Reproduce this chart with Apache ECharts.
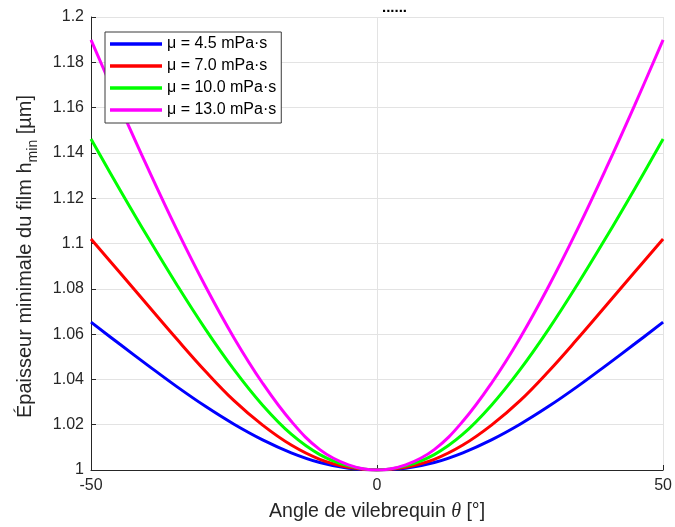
<!DOCTYPE html>
<html>
<head>
<meta charset="utf-8">
<script src="https://cdn.jsdelivr.net/npm/echarts@6/dist/echarts.min.js"></script>
<style>html,body{margin:0;padding:0;background:#fff}#c{width:675px;height:527px}</style>
</head>
<body>
<div id="c"></div>
<script>
// Crank angle (deg)
const angles = [-50,-45,-40,-35,-30,-25,-20,-15,-10,-5,0,5,10,15,20,25,30,35,40,45,50];
const seriesNames = ['μ = 4.5 mPa·s','μ = 7.0 mPa·s','μ = 10.0 mPa·s','μ = 13.0 mPa·s'];
// Minimum film thickness (µm)
const hMu45  = [1.0653,1.0556,1.0461,1.0368,1.0281,1.0202,1.0133,1.0076,1.0033,1.0008,1.0000,1.0008,1.0033,1.0076,1.0133,1.0202,1.0281,1.0368,1.0461,1.0556,1.0653];
const hMu70  = [1.1020,1.0873,1.0725,1.0578,1.0436,1.0306,1.0198,1.0110,1.0047,1.0012,1.0000,1.0012,1.0047,1.0110,1.0198,1.0306,1.0436,1.0578,1.0725,1.0873,1.1020];
const hMu100 = [1.1461,1.1240,1.1025,1.0818,1.0622,1.0443,1.0286,1.0158,1.0068,1.0018,1.0000,1.0018,1.0068,1.0158,1.0286,1.0443,1.0622,1.0818,1.1025,1.1240,1.1461];
const hMu130 = [1.1899,1.1609,1.1329,1.1061,1.0811,1.0583,1.0383,1.0215,1.0090,1.0023,1.0000,1.0023,1.0090,1.0215,1.0383,1.0583,1.0811,1.1061,1.1329,1.1609,1.1899];
const xTicks = [-50, 0, 50];
const yTickMin = 1, yTickMax = 1.2, yTickStep = 0.02;

const colors = ['#0000ff','#ff0000','#00ff00','#ff00ff'];
const allVals = [hMu45, hMu70, hMu100, hMu130];
const axisColor = '#262626';
const gridColor = '#e3e3e3';
const font = 'Liberation Sans, Arial, Helvetica, sans-serif';

const chart = echarts.init(document.getElementById('c'), null, {renderer:'canvas'});
chart.setOption({
  animation: false,
  backgroundColor: '#fff',
  textStyle: {fontFamily: font},
  grid: {left: 91, right: 10, top: 17, bottom: 56, containLabel: false},
  graphic: [{
    type: 'text', left: 382, top: 0,
    style: {text: '......', fontSize: 15, fontWeight: 'bold', fill: '#000', fontFamily: font}
  }],
  legend: {
    orient: 'vertical', left: 105, top: 32,
    padding: [4, 5, 5, 5], itemGap: 6,
    itemWidth: 52, itemHeight: 3.5, icon: 'rect',
    backgroundColor: '#fff', borderColor: '#3a3a3a', borderWidth: 1,
    textStyle: {fontSize: 16, color: '#000', lineHeight: 16, fontFamily: font},
    data: seriesNames
  },
  xAxis: {
    type: 'value', min: xTicks[0], max: xTicks[xTicks.length-1], interval: xTicks[1]-xTicks[0],
    name: '{a|Angle de vilebrequin }{i|θ}{a| [°]}',
    nameLocation: 'middle', nameGap: 32,
    nameTextStyle: {rich: {
      a: {fontSize: 19.5, color: axisColor, fontFamily: font},
      i: {fontSize: 20, color: axisColor, fontStyle: 'italic', fontFamily: 'Liberation Serif, DejaVu Serif, serif'}
    }},
    axisLine: {onZero: false, lineStyle: {color: axisColor, width: 1}},
    axisTick: {inside: true, length: 5, lineStyle: {color: axisColor}},
    axisLabel: {fontSize: 16, color: axisColor, margin: 8},
    splitLine: {show: true, lineStyle: {color: gridColor, width: 1}}
  },
  yAxis: {
    type: 'value', min: yTickMin, max: yTickMax, interval: yTickStep,
    name: '{a|Épaisseur minimale du film h}{s|min}{a| [µm]}',
    nameLocation: 'middle', nameGap: 56, nameRotate: 90,
    nameTextStyle: {padding: [0, 26, 0, 0], rich: {
      a: {fontSize: 20, color: axisColor, fontFamily: font, lineHeight: 24, verticalAlign: 'bottom'},
      s: {fontSize: 14, color: axisColor, fontFamily: font, lineHeight: 24, verticalAlign: 'bottom', padding: [0,0,-5,0]}
    }},
    axisLine: {show: true, onZero: false, lineStyle: {color: axisColor, width: 1}},
    axisTick: {show: true, inside: true, length: 5, lineStyle: {color: axisColor}},
    axisLabel: {fontSize: 16, color: axisColor, margin: 7},
    splitLine: {show: true, lineStyle: {color: gridColor, width: 1}}
  },
  series: seriesNames.map((n, k) => ({
    name: n, type: 'line', smooth: 0.4, showSymbol: false, symbol: 'none',
    color: colors[k],
    lineStyle: {width: 3, color: colors[k]},
    data: angles.map((a, i) => [a, allVals[k][i]])
  }))
});
</script>
</body>
</html>
